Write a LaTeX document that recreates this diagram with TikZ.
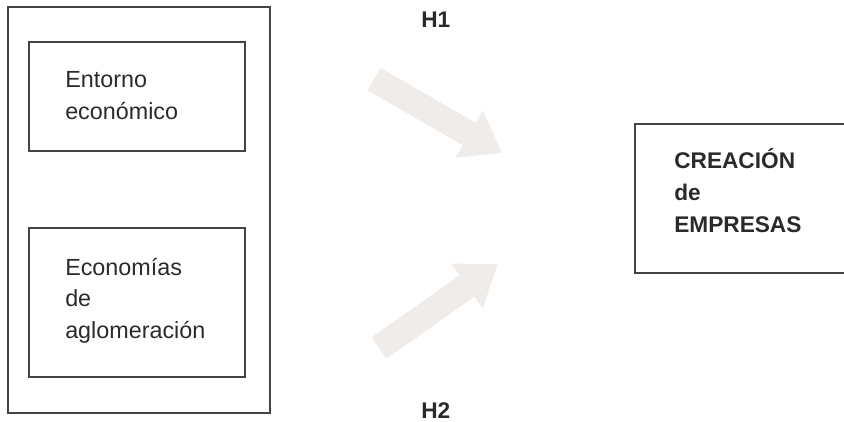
\documentclass[tikz,border=0pt]{standalone}
\usepackage{fontspec}
\setmainfont{Liberation Sans}
\usetikzlibrary{arrows.meta}
\definecolor{boxline}{HTML}{444444}
\definecolor{txt}{HTML}{2A2A2A}
\definecolor{arrowfill}{HTML}{EFECEA}
\tikzset{
  box/.style={draw=boxline, line width=0.8pt},
  lbl/.style={anchor=base west, inner sep=0pt, align=left, text=txt, font=\fontsize{17.5}{23.5}\selectfont},
  blbl/.style={lbl, font=\fontsize{17}{24}\selectfont\bfseries},
  bigarrow/.style={draw=arrowfill, line width=19.5pt, -{Triangle[length=28.5pt, width=39pt]}},
}
\begin{document}
\begin{tikzpicture}[x=0.75pt, y=-0.75pt]
\useasboundingbox (0,0) rectangle (844,422);
\clip (0,0) rectangle (844,422);
% left group
\draw[box] (8,7) rectangle (270,413);
\draw[box] (29,42) rectangle (245,151);
\draw[box] (29,228) rectangle (245,377);
\node[lbl] (entorno) at (65,119) {Entorno\\económico};
\node[lbl] (econ) at (65,338) {Economías\\de\\aglomeración};
% right box
\draw[box] (635,124) rectangle (860,273);
\node[blbl] (creacion) at (674,232) {CREACIÓN\\de\\EMPRESAS};
% arrows
\coordinate (a1s) at (374,79);
\coordinate (a1e) at (502,153);
\coordinate (a2s) at (379,348);
\coordinate (a2e) at (498,264);
\draw[bigarrow] (a1s) -- (a1e);
\draw[bigarrow] (a2s) -- (a2e);
\node[blbl] (h1) at (421,27) {H1};
\node[blbl] (h2) at (421,418) {H2};
\end{tikzpicture}
\end{document}
